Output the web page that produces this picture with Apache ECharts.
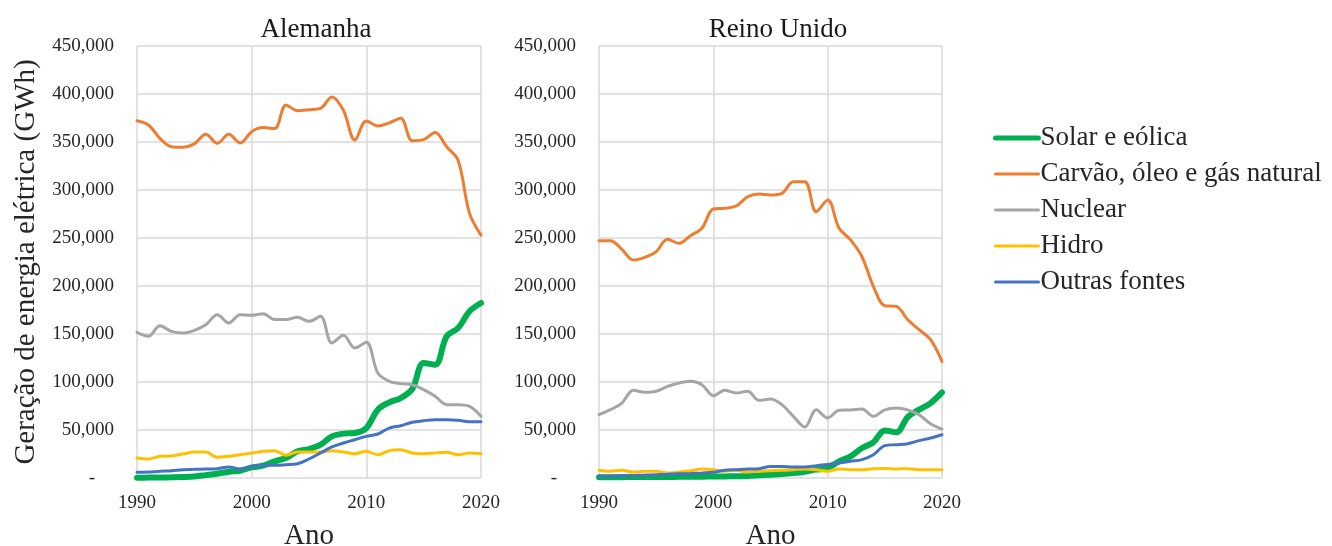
<!DOCTYPE html>
<html>
<head>
<meta charset="utf-8">
<script src="https://cdn.jsdelivr.net/npm/echarts@6/dist/echarts.min.js"></script>
<style>
  html, body { margin: 0; padding: 0; background: #fff; }
  #chart { width: 1332px; height: 546px; }
</style>
</head>
<body>
<div id="chart"></div>
<script>
// Electricity generation by source (GWh), 1990–2020
const years = [];
for (let y = 1990; y <= 2020; y++) years.push(y);

const seriesNames = ['Solar e eólica', 'Carvão, óleo e gás natural', 'Nuclear', 'Hidro', 'Outras fontes'];
const seriesColors = ['#00B050', '#ED7D31', '#A5A5A5', '#FFC000', '#4472C4'];

// Alemanha
const deSolarWind = [300, 400, 500, 700, 1000, 1600, 3000, 4500, 6500, 7600, 11000, 12800, 17400, 20800, 27800, 30200, 34700, 43400, 46200, 46900, 52000, 71200, 78800, 83300, 92700, 119800, 118000, 147600, 156300, 173600, 182300];
const deFossil = [372200, 367700, 353800, 345100, 344500, 348000, 358000, 348600, 358000, 349000, 360800, 365000, 364000, 388500, 382600, 383700, 385000, 397000, 383000, 352000, 372000, 366700, 370000, 374700, 351400, 352500, 360000, 345000, 331000, 275700, 253000];
const deNuclear = [151700, 147600, 158700, 152800, 151000, 153800, 159700, 170100, 161500, 170000, 169500, 171200, 165000, 165000, 167400, 163200, 168400, 140600, 148600, 135400, 141300, 109400, 100700, 98300, 97200, 92000, 85100, 76400, 76400, 74700, 64300];
const deHydro = [20800, 19800, 22600, 22900, 25000, 27000, 27000, 21500, 22600, 24300, 26000, 27800, 28500, 23600, 27000, 27000, 27000, 28500, 27000, 25300, 27800, 24300, 28500, 29500, 26000, 25300, 26000, 26700, 24300, 26000, 25300];
const deOther = [5900, 6200, 7000, 7500, 8700, 9000, 9400, 9700, 11500, 9400, 12100, 13200, 13200, 13900, 14900, 19800, 26000, 32300, 36500, 39900, 43400, 45800, 52000, 54500, 58000, 59700, 60800, 60800, 60100, 58700, 58700];

// Reino Unido
const ukSolarWind = [800, 900, 900, 1000, 1000, 1100, 1100, 1200, 1300, 1400, 1500, 1600, 1800, 2000, 2800, 3500, 4200, 5200, 6600, 8700, 10400, 17400, 22600, 31200, 37100, 49600, 47600, 63500, 71200, 78100, 89200];
const ukFossil = [247200, 247200, 238200, 227100, 229900, 235800, 248600, 244500, 252400, 260100, 280200, 280900, 283300, 293000, 295800, 294800, 296500, 308700, 308700, 277400, 289600, 260100, 248000, 230500, 199600, 179500, 178800, 164900, 154500, 144100, 121500];
const ukNuclear = [66000, 71200, 78100, 91300, 89200, 90300, 95500, 99000, 100700, 97200, 85800, 91300, 88500, 90300, 80900, 82300, 76400, 64200, 53100, 71200, 62500, 70500, 70900, 71900, 64200, 71000, 72900, 71000, 65900, 56600, 51000];
const ukHydro = [8000, 7000, 8000, 6200, 7000, 7000, 5200, 6200, 7600, 9400, 8700, 7000, 8000, 6200, 7000, 7600, 8000, 8700, 9400, 8700, 7000, 9500, 8700, 8700, 9700, 10000, 9400, 9700, 8700, 8700, 8700];
const ukOther = [1700, 2000, 2300, 2600, 3000, 3500, 3900, 4300, 4700, 5200, 5900, 8000, 8700, 9400, 9700, 12100, 12100, 11500, 11500, 12800, 14200, 15600, 17400, 19100, 24300, 33700, 34700, 35700, 38900, 41700, 45100];

const yTickStep = 50000;
const yMax = 450000;
const xInterval = 10;

const FONT = '"Liberation Serif", "DejaVu Serif", serif';
const TEXT = '#262626';
const GRIDLINE = '#D9D9D9';

function pairs(values) {
  return years.map((y, i) => [y, values[i]]);
}

function yLabel(v) {
  if (v === 0) return '-    ';
  return v.toLocaleString('en-US');
}

function makeSeries(gridIdx, valueSets) {
  return valueSets.map((vals, i) => ({
    name: seriesNames[i],
    type: 'line',
    xAxisIndex: gridIdx,
    yAxisIndex: gridIdx,
    data: pairs(vals),
    smooth: 0.35,
    symbol: 'none',
    showSymbol: false,
    color: seriesColors[i],
    lineStyle: { width: i === 0 ? 6 : 3, color: seriesColors[i], cap: 'round' },
    z: 2 + i
  }));
}

function xAxis(gridIdx, name) {
  return {
    type: 'value', gridIndex: gridIdx,
    min: 1990, max: 2020, interval: xInterval,
    name: name, nameLocation: 'middle', nameGap: 44,
    nameTextStyle: { fontFamily: FONT, fontSize: 29, color: TEXT },
    axisLine: { show: false }, axisTick: { show: false },
    axisLabel: { formatter: v => String(v), fontFamily: FONT, fontSize: 19, color: TEXT, margin: 16 },
    splitLine: { show: true, lineStyle: { color: GRIDLINE, width: 1.5 } }
  };
}

function yAxis(gridIdx, name) {
  return {
    type: 'value', gridIndex: gridIdx,
    min: 0, max: yMax, interval: yTickStep,
    name: name, nameLocation: 'middle', nameGap: 96,
    nameTextStyle: { fontFamily: FONT, fontSize: 29, color: TEXT },
    axisLine: { show: false }, axisTick: { show: false },
    axisLabel: { formatter: yLabel, fontFamily: FONT, fontSize: 19, color: TEXT, margin: 23 },
    splitLine: { show: true, lineStyle: { color: GRIDLINE, width: 1.5 } }
  };
}

const legendData = seriesNames.map((n, i) => ({
  name: n,
  itemStyle: { opacity: 0 },
  lineStyle: { width: i === 0 ? 5 : 3, color: seriesColors[i], cap: 'round' }
}));

const chart = echarts.init(document.getElementById('chart'), null, { renderer: 'canvas' });
chart.setOption({
  backgroundColor: '#ffffff',
  animation: false,
  title: [
    { text: 'Alemanha', left: 311, top: 11, textAlign: 'center',
      textStyle: { fontFamily: FONT, fontSize: 27, fontWeight: 'normal', color: '#1a1a1a' } },
    { text: 'Reino Unido', left: 773, top: 11, textAlign: 'center',
      textStyle: { fontFamily: FONT, fontSize: 27, fontWeight: 'normal', color: '#1a1a1a' } }
  ],
  legend: {
    orient: 'vertical', left: 993, top: 124, padding: 0,
    itemWidth: 43, itemHeight: 14, itemGap: 8,
    data: legendData,
    itemStyle: { opacity: 0 },
    textStyle: { fontFamily: FONT, fontSize: 27, color: TEXT, lineHeight: 28, padding: [0, 0, 0, -3] }
  },
  grid: [
    { left: 137, top: 46, width: 344, height: 432, outerBoundsMode: 'none', containLabel: false },
    { left: 599, top: 46, width: 343, height: 432, outerBoundsMode: 'none', containLabel: false }
  ],
  xAxis: [xAxis(0, 'Ano'), xAxis(1, 'Ano')],
  yAxis: [yAxis(0, 'Geração de energia elétrica (GWh)'), yAxis(1, '')],
  series: [
    ...makeSeries(0, [deSolarWind, deFossil, deNuclear, deHydro, deOther]),
    ...makeSeries(1, [ukSolarWind, ukFossil, ukNuclear, ukHydro, ukOther])
  ]
});
</script>
</body>
</html>
